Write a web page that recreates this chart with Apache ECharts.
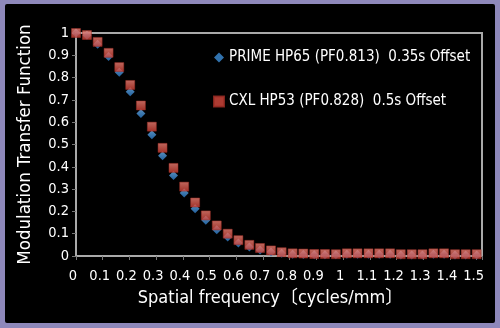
<!DOCTYPE html>
<html><head><meta charset="utf-8">
<script src="https://cdn.jsdelivr.net/npm/echarts@6/dist/echarts.min.js"></script>
<style>html,body{margin:0;padding:0;background:#8e88ba;}#c{width:500px;height:328px;}</style>
</head><body><div id="c"></div>
<script>
var freq = [0, 0.041, 0.081, 0.122, 0.162, 0.203, 0.243, 0.284, 0.324, 0.365, 0.405, 0.446, 0.486, 0.527, 0.568, 0.608, 0.649, 0.689, 0.730, 0.770, 0.811, 0.851, 0.892, 0.932, 0.973, 1.014, 1.054, 1.095, 1.135, 1.176, 1.216, 1.257, 1.297, 1.338, 1.378, 1.419, 1.459, 1.500];
var primeHP65 = [1.000, 0.990, 0.950, 0.895, 0.824, 0.736, 0.639, 0.544, 0.449, 0.361, 0.282, 0.212, 0.160, 0.118, 0.085, 0.058, 0.040, 0.027, 0.018, 0.012, 0.008, 0.007, 0.006, 0.006, 0.006, 0.008, 0.008, 0.008, 0.008, 0.008, 0.005, 0.005, 0.005, 0.008, 0.008, 0.005, 0.005, 0.005];
var cxlHP53 = [1.000, 0.991, 0.960, 0.911, 0.847, 0.767, 0.675, 0.580, 0.485, 0.395, 0.311, 0.240, 0.182, 0.137, 0.100, 0.071, 0.050, 0.036, 0.025, 0.017, 0.012, 0.011, 0.009, 0.009, 0.008, 0.012, 0.012, 0.012, 0.012, 0.012, 0.008, 0.008, 0.008, 0.012, 0.012, 0.008, 0.008, 0.008];
var seriesNames = ['PRIME HP65 (PF0.813)  0.35s Offset', 'CXL HP53 (PF0.828)  0.5s Offset'];
var xAxisTitle = 'Spatial frequency〔cycles/mm〕';
var yAxisTitle = 'Modulation Transfer Function';

var FONT = "'DejaVu Sans Condensed', 'DejaVu Sans', 'Noto Sans CJK KR', sans-serif";
function pairs(xs, ys) { return xs.map(function (x, i) { return [x, ys[i]]; }); }
function tenth(v) { return Math.abs(v * 10 - Math.round(v * 10)) < 1e-6; }

var chart = echarts.init(document.getElementById('c'), null, { renderer: 'canvas' });
chart.setOption({
  backgroundColor: '#8e88ba',
  textStyle: { fontFamily: FONT },
  graphic: [{ type: 'rect', z: -10, silent: true, shape: { x: 5, y: 4, width: 490, height: 319, r: 2 }, style: { fill: '#000' } }],
  grid: { left: 76, right: 18, top: 33, bottom: 72, show: true, borderColor: '#a9a9a9', borderWidth: 2, backgroundColor: 'transparent' },
  legend: {
    orient: 'vertical', left: 208, top: 45, itemGap: 29, itemWidth: 10, itemHeight: 10,
    textStyle: { color: '#fff', fontSize: 15, fontFamily: FONT },
    data: [{ name: seriesNames[0], icon: 'diamond', itemStyle: { color: '#3d8fd8' } }, { name: seriesNames[1], icon: 'rect', itemStyle: { color: '#d74a3f' } }]
  },
  xAxis: {
    type: 'value', min: 0, max: 1.52, interval: 0.1,
    name: xAxisTitle, nameLocation: 'middle', nameGap: 33,
    nameTextStyle: { color: '#fff', fontSize: 18, fontFamily: FONT, padding: [0, 17, 0, 0] },
    axisLine: { show: true, onZero: false, lineStyle: { color: '#a9a9a9', width: 2 } },
    axisTick: { show: true, length: 4, lineStyle: { color: '#777' } },
    axisLabel: { color: '#fff', fontSize: 14.5, margin: 13, padding: [0, 6, 0, 0], formatter: function (v) { return tenth(v) ? String(Math.round(v * 10) / 10) : ''; } },
    splitLine: { show: false }
  },
  yAxis: {
    type: 'value', min: 0, max: 1, interval: 0.1,
    name: yAxisTitle, nameLocation: 'middle', nameGap: 42, nameRotate: 90,
    nameTextStyle: { color: '#fff', fontSize: 18.5, fontFamily: FONT },
    axisLine: { show: true, lineStyle: { color: '#a9a9a9', width: 2 } },
    axisTick: { show: true, length: 4, lineStyle: { color: '#777' } },
    axisLabel: { color: '#fff', fontSize: 14.5, margin: 7, formatter: function (v) { return String(Math.round(v * 10) / 10); } },
    splitLine: { show: false }
  },
  series: [
    {
      name: seriesNames[0], type: 'scatter', symbol: 'diamond', symbolSize: [9, 9], z: 2,
      itemStyle: { color: new echarts.graphic.LinearGradient(0, 0, 0, 1, [{ offset: 0, color: '#6fb4ef' }, { offset: 1, color: '#2a78c4' }]) },
      data: pairs(freq, primeHP65)
    },
    {
      name: seriesNames[1], type: 'scatter', symbol: 'rect', symbolSize: [9, 9], z: 3,
      itemStyle: { color: new echarts.graphic.LinearGradient(0, 0, 0, 1, [{ offset: 0, color: '#f08276' }, { offset: 1, color: '#c93d32' }]), borderColor: '#a02e26', borderWidth: 0.6 },
      data: pairs(freq, cxlHP53)
    }
  ]
});
</script></body></html>
